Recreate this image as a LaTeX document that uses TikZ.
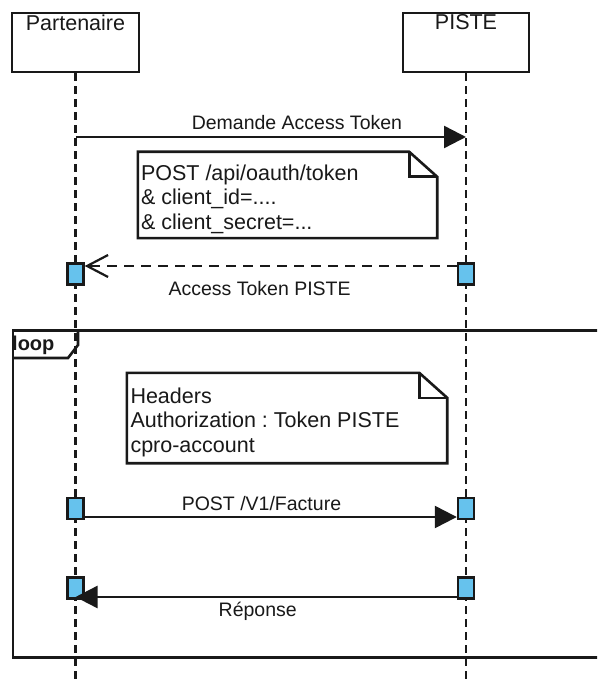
\documentclass[tikz,border=0pt]{standalone}
\usepackage{fontspec}
\setmainfont{Liberation Sans}
\usetikzlibrary{arrows.meta,calc}
\definecolor{actblue}{RGB}{102,194,237}
\definecolor{ink}{RGB}{25,25,25}
\newcommand{\hdfont}{\fontsize{21.5}{24.5}\selectfont}
\newcommand{\msgfont}{\fontsize{19.5}{23}\selectfont}
\frenchspacing
\begin{document}
\begin{tikzpicture}[x=1pt,y=-1pt,line join=miter,
  headbox/.style={draw=ink,line width=2.6pt,fill=white,minimum height=59pt,inner sep=0pt},
  headlabel/.style={anchor=north,inner sep=0pt,yshift=-3pt,font=\hdfont,text=ink},
  lifeline/.style={draw=ink,line width=2.2pt,dash pattern=on 8pt off 5pt},
  actbox/.style={draw=ink,line width=2.4pt,fill=actblue,minimum width=16pt,minimum height=21pt,inner sep=0pt},
  msg/.style={draw=ink,line width=2.4pt,-{Triangle[length=22pt,width=22pt]}},
  reply/.style={draw=ink,line width=2.4pt,dash pattern=on 10pt off 7pt,-{Straight Barb[length=21pt,width=22pt,line width=2.2pt]}},
  msglabel/.style={font=\msgfont,text=ink,inner sep=0pt,anchor=base},
  notebox/.style={fill=white,inner sep=0pt},
  noteline/.style={draw=ink,line width=2.6pt},
  notetext/.style={font=\hdfont,text=ink,align=left,inner sep=0pt,anchor=north west},
  framebox/.style={draw=ink,line width=2.6pt}]
\useasboundingbox (0,0) rectangle (597,684);
\clip (0,0) rectangle (597,684);
\fill[white] (0,0) rectangle (597,684);

% heads
\node[headbox,minimum width=127pt,label={[headlabel]north:Partenaire}] (P) at (75.5,42.5) {};
\node[headbox,minimum width=126pt,label={[headlabel]north:PISTE}] (S) at (466,42.5) {};
\coordinate (bottom) at (0,690);
\draw[lifeline] (P.south) -- (P.south |- bottom);
\draw[lifeline] (S.south) -- (S.south |- bottom);

% loop frame
\draw[framebox] (13,330.7) rectangle (620,657.7);
\draw[framebox] (78,330.7) -- (78,345) -- (68,358) -- (13,358);
\node[font=\fontsize{20}{24}\selectfont\bfseries,text=ink,inner sep=0pt,anchor=base west] (looptag) at (12,350) {loop};

% message 1
\coordinate (y1) at (0,137);
\draw[msg] (P |- y1) -- (S |- y1)
  node[msglabel,pos=0.567,yshift=7pt] {Demande Access Token};

% note 1
\node[notebox,minimum width=299pt,minimum height=86pt] (N1) at (287.5,195) {};
\draw[noteline] (N1.north west) -- ([xshift=-28pt]N1.north east) -- ([yshift=-25pt]N1.north east) -- (N1.south east) -- (N1.south west) -- cycle;
\draw[noteline] ([xshift=-28pt]N1.north east) |- ([yshift=-25pt]N1.north east);
\node[notetext] at ($(N1.north west)+(3,12.5)$) {POST /api/oauth/token\\\& client\_id=....\\\& client\_secret=...};

% activation boxes
\node[actbox] (a1) at (75.5,274) {};
\node[actbox] (a2) at (466,274) {};
\node[actbox] (a3) at (75.5,508.5) {};
\node[actbox] (a4) at (466,508.5) {};
\node[actbox] (a5) at (75.5,588) {};
\node[actbox] (a6) at (466,588) {};

% message 2 (reply)
\coordinate (y2) at (0,266);
\draw[reply] (a2.west |- y2) -- (a1.east |- y2)
  node[msglabel,pos=0.53,yshift=-29pt] {Access Token PISTE};

% note 2
\node[notebox,minimum width=320pt,minimum height=90pt] (N2) at (287,418) {};
\draw[noteline] (N2.north west) -- ([xshift=-28pt]N2.north east) -- ([yshift=-25pt]N2.north east) -- (N2.south east) -- (N2.south west) -- cycle;
\draw[noteline] ([xshift=-28pt]N2.north east) |- ([yshift=-25pt]N2.north east);
\node[notetext] at ($(N2.north west)+(3.5,14.5)$) {Headers\\Authorization : Token PISTE\\cpro-account};

% message 3
\coordinate (y3) at (0,517);
\draw[msg] (a3.east |- y3) -- (a4.west |- y3)
  node[msglabel,pos=0.475,yshift=7pt] {POST /V1/Facture};

% message 4
\coordinate (y4) at (0,597);
\draw[msg] (a6.west |- y4) -- (a5 |- y4)
  node[msglabel,pos=0.522,yshift=-19pt] {Réponse};
\end{tikzpicture}
\end{document}
